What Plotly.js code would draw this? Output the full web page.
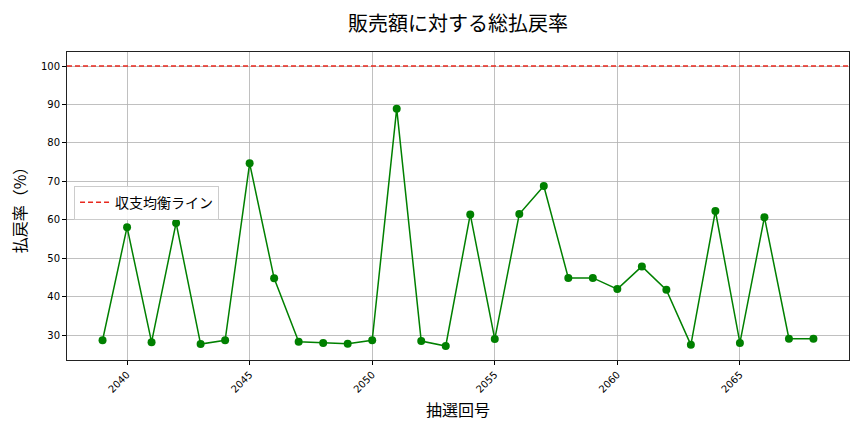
<!DOCTYPE html>
<html>
<head>
<meta charset="utf-8">
<script src="https://cdn.plot.ly/plotly-3.0.1.min.js"></script>
<style>
  html, body { margin: 0; padding: 0; background: #fff; }
  #chart { width: 864px; height: 432px; }
</style>
</head>
<body>
<div id="chart"></div>
<script>
// 抽選回号と払戻率（%）
const draws = [2039, 2040, 2041, 2042, 2043, 2044, 2045, 2046, 2047, 2048,
               2049, 2050, 2051, 2052, 2053, 2054, 2055, 2056, 2057, 2058,
               2059, 2060, 2061, 2062, 2063, 2064, 2065, 2066, 2067, 2068];
const payoutRates = [28.7, 58.1, 28.2, 59.2, 27.7, 28.7, 74.7, 44.8, 28.3, 28.0,
                     27.8, 28.7, 88.9, 28.5, 27.2, 61.4, 29.0, 61.5, 68.8, 44.9,
                     44.9, 42.0, 47.9, 41.8, 27.5, 62.3, 28.0, 60.7, 29.1, 29.1];
const breakEven = 100;
const xTicks = [2040, 2045, 2050, 2055, 2060, 2065];
const yTicks = [30, 40, 50, 60, 70, 80, 90, 100];

const jp = '"Noto Sans CJK JP", "DejaVu Sans", sans-serif';
const tickFont = { family: '"DejaVu Sans", sans-serif', size: 10, color: '#000' };

const plotData = [{
  x: draws,
  y: payoutRates,
  type: 'scatter',
  mode: 'lines+markers',
  name: '払戻率',
  showlegend: false,
  line: { color: 'green', width: 1.5 },
  marker: { color: 'green', size: 8 },
  cliponaxis: false
}];

// 軸の範囲（matplotlib 風に 5% の余白）
const xMin = Math.min(...draws), xMax = Math.max(...draws);
const yMin = Math.min(...payoutRates, breakEven), yMax = Math.max(...payoutRates, breakEven);
const xPad = (xMax - xMin) * 0.05, yPad = (yMax - yMin) * 0.05;

const layout = {
  width: 864,
  height: 432,
  margin: { t: 52, l: 67, r: 15, b: 72 },
  paper_bgcolor: '#fff',
  plot_bgcolor: '#fff',
  font: { family: jp, color: '#000' },
  title: {
    text: '販売額に対する総払戻率',
    font: { family: jp, size: 20, color: '#000' },
    x: 0.53,
    xanchor: 'center',
    y: 0.945,
    yanchor: 'middle'
  },
  xaxis: {
    title: { text: '抽選回号', font: { family: jp, size: 16, color: '#000' }, standoff: 10 },
    range: [xMin - xPad, xMax + xPad],
    tickmode: 'array',
    tickvals: xTicks,
    ticktext: xTicks.map(String),
    tickangle: -45,
    tickfont: tickFont,
    ticks: 'outside',
    ticklen: 4,
    tickcolor: '#000',
    showgrid: true,
    gridcolor: '#b0b0b0',
    gridwidth: 0.8,
    zeroline: false,
    showline: true,
    linecolor: '#222',
    linewidth: 1,
    mirror: true
  },
  yaxis: {
    title: { text: '払戻率（%）', font: { family: jp, size: 16, color: '#000' }, standoff: 10 },
    range: [yMin - yPad, yMax + yPad],
    tickmode: 'array',
    tickvals: yTicks,
    tickfont: tickFont,
    ticks: 'outside',
    ticklen: 4,
    tickcolor: '#000',
    showgrid: true,
    gridcolor: '#b0b0b0',
    gridwidth: 0.8,
    zeroline: false,
    showline: true,
    linecolor: '#222',
    linewidth: 1,
    mirror: true
  },
  shapes: [{
    type: 'line',
    xref: 'paper',
    x0: 0,
    x1: 1,
    yref: 'y',
    y0: breakEven,
    y1: breakEven,
    line: { color: '#e8281e', width: 1.6, dash: '5px,3px' },
    name: '収支均衡ライン',
    showlegend: true,
    layer: 'above'
  }],
  showlegend: true,
  legend: {
    x: 0.009,
    y: 0.566,
    xanchor: 'left',
    yanchor: 'top',
    bgcolor: 'rgba(255,255,255,0.85)',
    bordercolor: '#cccccc',
    borderwidth: 1,
    font: { family: jp, size: 14, color: '#000' }
  }
};

Plotly.newPlot('chart', plotData, layout, { displayModeBar: false, staticPlot: true });
</script>
</body>
</html>
